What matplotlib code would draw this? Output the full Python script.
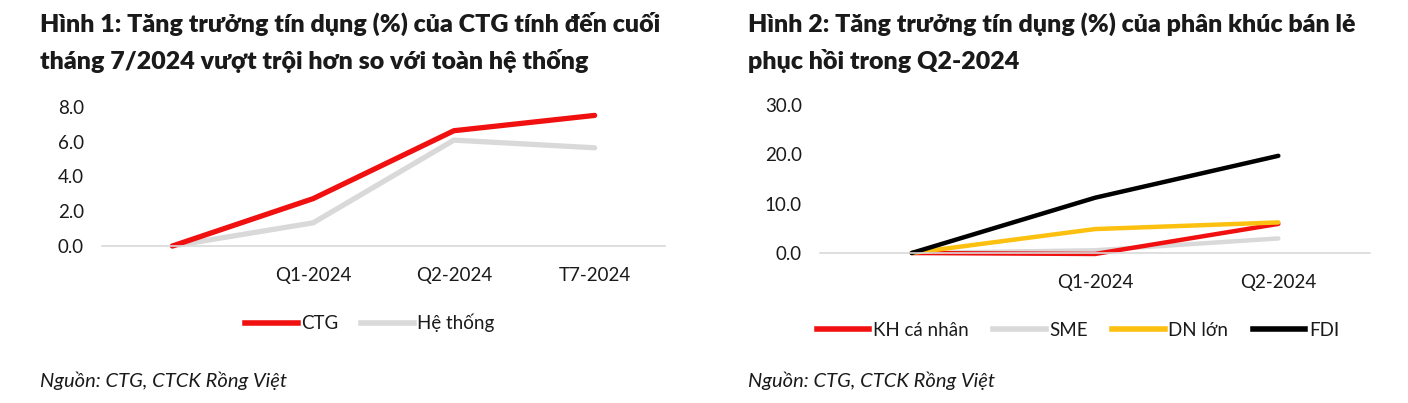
import matplotlib
matplotlib.use("Agg")
import matplotlib.pyplot as plt
from matplotlib.lines import Line2D

plt.rcParams['font.family'] = ['Lato', 'DejaVu Sans']

# Hinh 1
ky_1 = ['', 'Q1-2024', 'Q2-2024', 'T7-2024']
ctg = [0.0, 2.72, 6.62, 7.50]
he_thong = [0.0, 1.33, 6.08, 5.64]
yticks_1 = [0.0, 2.0, 4.0, 6.0, 8.0]

# Hinh 2
ky_2 = ['', 'Q1-2024', 'Q2-2024']
kh_ca_nhan = [0.0, -0.2, 5.9]
sme = [0.0, 0.55, 2.95]
dn_lon = [0.0, 4.85, 6.2]
fdi = [0.0, 11.2, 19.7]
yticks_2 = [0.0, 10.0, 20.0, 30.0]

W, H = 1408, 403
TXT = '#1a1a1a'
RED = '#f01010'
GREY = '#d9d9d9'
YEL = '#fcc010'

fig = plt.figure(figsize=(W / 100, H / 100), dpi=100)


def px_axes(x0, x1, y_top, y_bot):
    return fig.add_axes([x0 / W, 1 - y_bot / H, (x1 - x0) / W, (y_bot - y_top) / H])


def style(ax, cats, yt, ymax):
    ax.set_xlim(-0.5, len(cats) - 0.5)
    ax.set_ylim(0, ymax)
    ax.set_xticks(range(len(cats)))
    ax.set_xticklabels(cats)
    ax.set_yticks(yt)
    ax.set_yticklabels(['%.1f' % v for v in yt])
    for s in ['top', 'right', 'left']:
        ax.spines[s].set_visible(False)
    ax.spines['bottom'].set_color(GREY)
    ax.spines['bottom'].set_linewidth(1.2)
    ax.tick_params(axis='both', length=0, labelsize=13.5, colors=TXT)
    ax.tick_params(axis='y', pad=13)
    ax.tick_params(axis='x', pad=15)
    ax.set_facecolor('none')


# ---- left chart
ax1 = px_axes(102, 665, 106.7, 246)
x1 = range(len(ky_1))
ax1.plot(x1, he_thong, color=GREY, lw=3.8, solid_capstyle='round', clip_on=False)
ax1.plot(x1, ctg, color=RED, lw=3.8, solid_capstyle='round', clip_on=False)
style(ax1, ky_1, yticks_1, 8.0)

fig.text(40 / W, 1 - 24 / H, 'Hình 1: Tăng trưởng tín dụng (%) của CTG tính đến cuối',
         fontsize=18, fontweight='heavy', color=TXT, va='center')
fig.text(40 / W, 1 - 61 / H, 'tháng 7/2024 vượt trội hơn so với toàn hệ thống',
         fontsize=18, fontweight='heavy', color=TXT, va='center')
fig.text(40 / W, 1 - 381 / H, 'Nguồn: CTG, CTCK Rồng Việt',
         fontsize=14.5, style='italic', color=TXT, va='center')

h1 = [Line2D([], [], color=RED, lw=4), Line2D([], [], color=GREY, lw=4)]
fig.legend(h1, ['CTG', 'Hệ thống'], loc='center', bbox_to_anchor=(370 / W, 1 - 323 / H),
           ncol=2, frameon=False, fontsize=13.5, handlelength=2.8, handletextpad=0.2,
           columnspacing=1.2, labelcolor=TXT)

# ---- right chart
ax2 = px_axes(820, 1370, 105, 253)
x2 = range(len(ky_2))
ax2.plot(x2, sme, color=GREY, lw=3.2, solid_capstyle='round', clip_on=False)
ax2.plot(x2, kh_ca_nhan, color=RED, lw=3.2, solid_capstyle='round', clip_on=False)
ax2.plot(x2, dn_lon, color=YEL, lw=3.2, solid_capstyle='round', clip_on=False)
ax2.plot(x2, fdi, color='black', lw=3.2, solid_capstyle='round', clip_on=False)
style(ax2, ky_2, yticks_2, 30.0)

fig.text(748 / W, 1 - 24 / H, 'Hình 2: Tăng trưởng tín dụng (%) của phân khúc bán lẻ',
         fontsize=18, fontweight='heavy', color=TXT, va='center')
fig.text(748 / W, 1 - 61 / H, 'phục hồi trong Q2-2024',
         fontsize=18, fontweight='heavy', color=TXT, va='center')
fig.text(748 / W, 1 - 381 / H, 'Nguồn: CTG, CTCK Rồng Việt',
         fontsize=14.5, style='italic', color=TXT, va='center')

h2 = [Line2D([], [], color=c, lw=4) for c in [RED, GREY, YEL, 'black']]
fig.legend(h2, ['KH cá nhân', 'SME', 'DN lớn', 'FDI'], loc='center',
           bbox_to_anchor=(1078 / W, 1 - 330 / H), ncol=4, frameon=False, fontsize=13.5,
           handlelength=2.8, handletextpad=0.2, columnspacing=1.3, labelcolor=TXT)

fig.savefig('out.png', dpi=100, facecolor='white')
